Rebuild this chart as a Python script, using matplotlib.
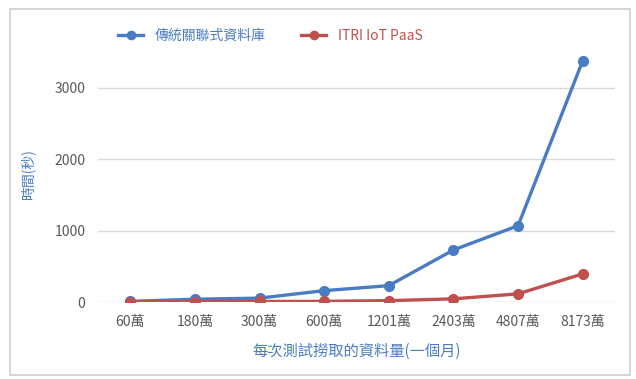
import matplotlib
matplotlib.use("Agg")
import matplotlib.pyplot as plt
from matplotlib.patches import Rectangle

plt.rcParams["font.family"] = ["Noto Sans CJK TC", "DejaVu Sans"]

categories = ["60萬", "180萬", "300萬", "600萬", "1201萬", "2403萬", "4807萬", "8173萬"]
traditional_db = [10, 40, 55, 160, 230, 730, 1070, 3380]
itri_paas = [5, 5, 8, 10, 20, 45, 115, 395]

blue = "#4a7cc3"
red = "#c0504d"

fig = plt.figure(figsize=(6.36, 3.79), dpi=100)
fig.patch.set_facecolor("white")
fig.add_artist(Rectangle((0.015, 0.01), 0.975, 0.965, transform=fig.transFigure,
                         fill=False, edgecolor="#d0d0d0", linewidth=1.2))

ax = fig.add_axes([0.154, 0.203, 0.813, 0.678])
x = range(len(categories))
ax.plot(x, traditional_db, color=blue, marker="o", markersize=7, linewidth=2.4,
        label="傳統關聯式資料庫")
ax.plot(x, itri_paas, color=red, marker="o", markersize=7, linewidth=2.4,
        label="ITRI IoT PaaS")

ax.set_xlim(-0.5, len(categories) - 0.5)
ax.set_ylim(0, 3600)
ax.set_yticks([0, 1000, 2000, 3000])
ax.set_xticks(list(x))
ax.set_xticklabels(categories)
ax.tick_params(axis="both", length=0, labelsize=10, colors="#595959", pad=9)
ax.grid(axis="y", color="#d9d9d9", linewidth=1)
ax.set_axisbelow(True)
for s in ax.spines.values():
    s.set_visible(False)

ax.set_xlabel("每次測試撈取的資料量(一個月)", color=blue, fontsize=11, labelpad=10)
ax.set_ylabel("時間(秒)", color=blue, fontsize=10, labelpad=14)

leg = fig.legend(loc="center", bbox_to_anchor=(0.425, 0.905), ncol=2, frameon=False,
                 fontsize=10, columnspacing=2.6, handlelength=1.8, markerscale=0.85)
for t, c in zip(leg.get_texts(), [blue, red]):
    t.set_color(c)

fig.savefig("out.png", dpi=100)
